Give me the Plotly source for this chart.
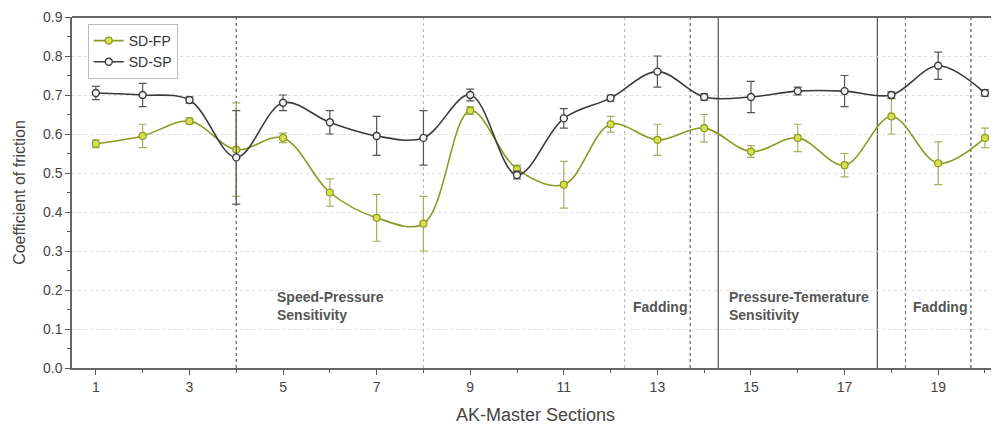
import plotly.graph_objects as go

sections = list(range(1, 21))
sd_fp = [0.575, 0.595, 0.633, 0.56, 0.59, 0.45, 0.385, 0.37, 0.66, 0.51,
         0.47, 0.625, 0.585, 0.615, 0.555, 0.59, 0.52, 0.645, 0.525, 0.59]
sd_fp_err = [0.01, 0.03, 0.008, 0.12, 0.012, 0.035, 0.06, 0.07, 0.01, 0.01,
             0.06, 0.02, 0.04, 0.035, 0.015, 0.035, 0.03, 0.045, 0.055, 0.025]
sd_sp = [0.705, 0.70, 0.687, 0.54, 0.68, 0.63, 0.595, 0.59, 0.70, 0.495,
         0.64, 0.692, 0.76, 0.695, 0.695, 0.71, 0.71, 0.70, 0.775, 0.705]
sd_sp_err = [0.017, 0.03, 0.008, 0.12, 0.02, 0.03, 0.05, 0.07, 0.015, 0.01,
             0.025, 0.008, 0.04, 0.008, 0.04, 0.01, 0.04, 0.008, 0.035, 0.008]

# section boundaries: (x, color, dash)
boundaries = [(4, "#555555", "dot"), (8, "#bbbbbb", "dot"), (12.3, "#bbbbbb", "dot"),
              (13.7, "#555555", "dot"), (14.3, "#444444", "solid"), (17.7, "#444444", "solid"),
              (18.3, "#777777", "dot"), (19.7, "#444444", "dot")]
region_labels = [(4.82, 0.11, "Speed-Pressure<br>Sensitivity"),
                 (12.43, 0.13, "Fadding"),
                 (14.48, 0.11, "Pressure-Temerature<br>Sensitivity"),
                 (18.41, 0.13, "Fadding")]

fp_line = "#8a9a22"
fp_fill = "#d6e050"
sp_line = "#3a3a3a"

fig = go.Figure()
fig.add_trace(go.Scatter(
    x=sections, y=sd_fp, name="SD-FP", mode="lines+markers",
    line=dict(color=fp_line, width=1.6, shape="spline", smoothing=1.0),
    marker=dict(symbol="circle", size=7, color=fp_fill, line=dict(color=fp_line, width=1.2)),
    error_y=dict(type="data", array=sd_fp_err, color="#a8b060", thickness=1.2, width=4),
))
fig.add_trace(go.Scatter(
    x=sections, y=sd_sp, name="SD-SP", mode="lines+markers",
    line=dict(color=sp_line, width=1.6, shape="spline", smoothing=1.0),
    marker=dict(symbol="circle", size=7, color="#f4f4f4", line=dict(color=sp_line, width=1.4)),
    error_y=dict(type="data", array=sd_sp_err, color="#555555", thickness=1.2, width=4),
))

for bx, col, dash in boundaries:
    fig.add_shape(type="line", xref="x", yref="y", x0=bx, x1=bx, y0=0, y1=0.9,
                  line=dict(color=col, width=1.1, dash=dash), layer="below")

for lx, ly, txt in region_labels:
    fig.add_annotation(x=lx, y=ly, text="<b>" + txt + "</b>", showarrow=False,
                       xanchor="left", yanchor="bottom", align="left",
                       font=dict(size=14, color="#555555", family="Liberation Sans, Arial"))

fig.update_layout(
    width=991, height=417,
    margin=dict(l=64, r=0, t=9, b=57),
    paper_bgcolor="white", plot_bgcolor="white",
    font=dict(family="Liberation Sans, Arial", color="#444444", size=14),
    legend=dict(x=0.017, y=0.98, xanchor="left", yanchor="top",
                bordercolor="#bbbbbb", borderwidth=1, bgcolor="white",
                font=dict(size=14, color="#333333"), tracegroupgap=0,
                itemwidth=30),
    showlegend=True,
)
fig.update_xaxes(
    range=[0.49, 20.3], tickmode="array", tickvals=list(range(1, 21, 2)),
    ticks="outside", ticklen=5, tickcolor="#555555", showgrid=False,
    showline=True, linecolor="#666666", linewidth=1.5, mirror=False,
    minor=dict(tickmode="array", tickvals=list(range(2, 21, 2)), ticks="outside", ticklen=3, tickcolor="#555555"),
    tickfont=dict(size=14, color="#444444"), automargin=False,
    title=dict(text="AK-Master Sections", font=dict(size=18, color="#444444"), standoff=16),
    zeroline=False,
)
fig.update_yaxes(
    range=[0, 0.9], tickmode="array", tickvals=[i / 10 for i in range(10)],
    ticktext=["%.1f" % (i / 10) for i in range(10)],
    ticks="outside", ticklen=5, tickcolor="#555555",
    showgrid=True, gridcolor="#dddddd", gridwidth=1, griddash="dot",
    showline=True, linecolor="#666666", linewidth=1.5,
    minor=dict(tickmode="array", tickvals=[i / 20 for i in range(1, 18, 2)], ticks="outside", ticklen=3, tickcolor="#555555"),
    tickfont=dict(size=14, color="#444444"), automargin=False,
    title=dict(text="Coefficient of friction", font=dict(size=16, color="#444444"), standoff=13),
    zeroline=False,
)
# top border line
fig.add_shape(type="line", xref="paper", yref="paper", x0=0, x1=1, y0=1, y1=1,
              line=dict(color="#666666", width=2))

fig.write_html("out.html")
